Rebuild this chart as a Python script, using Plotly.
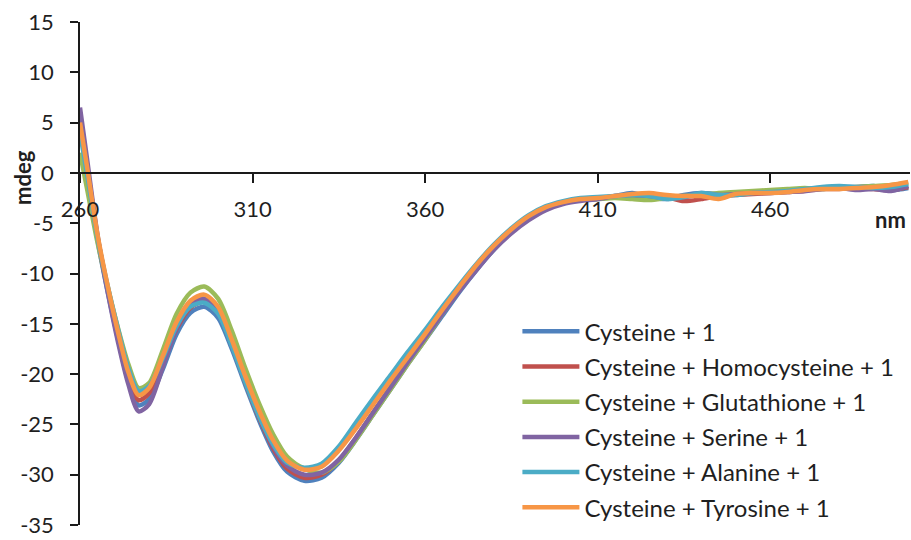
import plotly.graph_objects as go

wavelength = [260, 262, 265, 268, 271, 274, 277, 280, 284, 288, 292, 296, 300, 304, 308, 312, 316, 320,
              325, 330, 335, 340, 345, 350, 355, 360, 365, 370, 375, 380, 385, 390, 395, 400, 405, 410,
              415, 420, 425, 430, 435, 440, 445, 450, 455, 460, 465, 470, 475, 480, 485, 490, 495, 500]

cys = [5.0, 0.5, -6.5, -11.8, -16.5, -20.7, -23.1, -22.5, -19.5, -16.0, -13.9, -13.3, -14.4, -17.5, -21.2, -24.7, -27.7, -29.7,
       -30.6, -30.3, -28.8, -26.5, -24.0, -21.5, -19.0, -16.6, -14.2, -11.8, -9.6, -7.6, -5.9, -4.6, -3.6, -3.0, -2.7, -2.6,
       -2.3, -2.0, -2.4, -2.6, -2.2, -2.0, -2.1, -2.0, -1.9, -1.9, -1.8, -1.6, -1.5, -1.4, -1.4, -1.3, -1.7, -1.5]
homocys = [5.2, 0.8, -6.2, -11.5, -16.2, -20.3, -22.6, -21.9, -18.9, -15.5, -13.4, -12.8, -13.9, -17.1, -20.9, -24.4, -27.4, -29.4,
           -30.3, -30.0, -28.6, -26.3, -23.8, -21.3, -18.8, -16.4, -13.9, -11.6, -9.4, -7.4, -5.8, -4.5, -3.5, -3.0, -2.7, -2.5,
           -2.4, -2.3, -2.2, -2.4, -2.8, -2.6, -2.3, -2.2, -2.1, -2.0, -1.9, -1.8, -1.6, -1.6, -1.5, -1.6, -1.7, -1.4]
glutathione = [2.0, -1.5, -6.8, -11.3, -15.4, -19.0, -21.4, -20.9, -17.6, -14.0, -11.9, -11.3, -12.5, -15.7, -19.5, -23.0, -26.0, -28.2,
               -29.4, -29.8, -28.7, -26.5, -24.0, -21.5, -19.0, -16.6, -14.0, -11.6, -9.4, -7.4, -5.8, -4.5, -3.5, -3.0, -2.7, -2.6,
               -2.5, -2.6, -2.7, -2.5, -2.3, -2.2, -2.0, -1.9, -1.8, -1.7, -1.6, -1.5, -1.6, -1.5, -1.4, -1.3, -1.2, -1.0]
serine = [6.5, 1.5, -6.0, -11.8, -16.8, -21.0, -23.7, -23.0, -19.3, -15.4, -13.0, -12.5, -13.6, -16.9, -20.7, -24.2, -27.2, -29.1,
          -30.0, -29.8, -28.5, -26.3, -23.8, -21.3, -18.8, -16.4, -14.0, -11.7, -9.6, -7.6, -6.0, -4.7, -3.7, -3.1, -2.8, -2.6,
          -2.3, -2.2, -2.3, -2.5, -2.4, -2.1, -2.2, -2.1, -2.0, -2.0, -1.9, -1.8, -1.6, -1.5, -1.7, -1.6, -1.8, -1.3]
alanine = [4.0, 0.0, -6.3, -11.2, -15.5, -19.4, -21.7, -21.2, -18.4, -15.2, -13.3, -12.9, -14.0, -17.2, -20.9, -24.3, -27.0, -28.8,
           -29.3, -28.9, -27.2, -24.8, -22.4, -20.1, -17.8, -15.6, -13.3, -11.1, -9.0, -7.1, -5.5, -4.2, -3.3, -2.8, -2.5, -2.4,
           -2.3, -2.2, -2.3, -2.6, -2.4, -2.0, -2.2, -2.2, -2.0, -1.9, -1.8, -1.6, -1.4, -1.3, -1.4, -1.5, -1.4, -1.1]
tyrosine = [5.0, 0.7, -6.0, -11.2, -15.8, -19.8, -22.1, -21.4, -18.2, -14.8, -12.7, -12.1, -13.3, -16.6, -20.3, -23.7, -26.6, -28.6,
            -29.5, -29.2, -27.6, -25.4, -23.0, -20.6, -18.3, -16.0, -13.6, -11.3, -9.1, -7.2, -5.6, -4.3, -3.4, -2.9, -2.6, -2.5,
            -2.3, -2.1, -2.0, -2.2, -2.3, -2.3, -2.6, -2.1, -2.0, -2.0, -1.9, -1.7, -1.6, -1.6, -1.5, -1.4, -1.2, -0.9]

names = ["Cysteine + 1", "Cysteine + Homocysteine + 1", "Cysteine + Glutathione + 1",
         "Cysteine + Serine + 1", "Cysteine + Alanine + 1", "Cysteine + Tyrosine + 1"]
series = [cys, homocys, glutathione, serine, alanine, tyrosine]
colors = ["#4F81BD", "#C0504D", "#9BBB59", "#8064A2", "#4BACC6", "#F79646"]

y_ticks = [15, 10, 5, 0, -5, -10, -15, -20, -25, -30, -35]
x_ticks = [260, 310, 360, 410, 460]

for s in series:
    assert len(s) == len(wavelength)

FONT = "Lato, 'Open Sans', sans-serif"
TXT = "#1f1f1f"

fig = go.Figure()
for i, (nm_, s, c) in enumerate(zip(names, series, colors)):
    fig.add_trace(go.Scatter(x=wavelength, y=s, name=nm_, mode="lines",
                             line=dict(color=c, width=4.5, shape="spline", smoothing=0.8),
                             legendgroup=f"g{i}"))

fig.update_layout(
    width=911, height=540,
    margin=dict(l=80, r=1, t=22, b=15),
    paper_bgcolor="white", plot_bgcolor="white",
    font=dict(family=FONT, color=TXT, size=22),
    showlegend=True,
    legend=dict(x=0.527, y=0.429, xanchor="left", yanchor="top",
                font=dict(family=FONT, size=24, color=TXT),
                bgcolor="rgba(0,0,0,0)", tracegroupgap=1, itemwidth=57),
    xaxis=dict(range=[260, 500.5], tickvals=x_ticks, ticktext=[str(v) for v in x_ticks],
               anchor="free", position=0.7, showline=True, linecolor="#1a1a1a", linewidth=1.5,
               ticks="outside", ticklen=9, tickcolor="#1a1a1a", tickwidth=1.5,
               ticklabelstandoff=8,
               showgrid=False, zeroline=False, tickfont=dict(size=22, color=TXT)),
    yaxis=dict(range=[-35, 15], tickvals=y_ticks, ticktext=[str(v) for v in y_ticks],
               showline=True, linecolor="#1a1a1a", linewidth=1.5,
               ticks="outside", ticklen=8, tickcolor="#1a1a1a", tickwidth=1.5,
               ticklabelstandoff=12,
               showgrid=False, zeroline=False, tickfont=dict(size=22, color=TXT)),
    annotations=[
        dict(text="<b>mdeg</b>", xref="paper", yref="paper", x=-0.0687, y=0.692,
             xanchor="center", yanchor="middle",
             textangle=-90, showarrow=False, font=dict(size=22, color=TXT, family=FONT)),
        dict(text="<b>nm</b>", xref="paper", yref="paper", x=0.976, y=0.608,
             xanchor="center", yanchor="middle",
             showarrow=False, font=dict(size=22, color=TXT, family=FONT)),
    ],
)

fig.write_html("out.html")
